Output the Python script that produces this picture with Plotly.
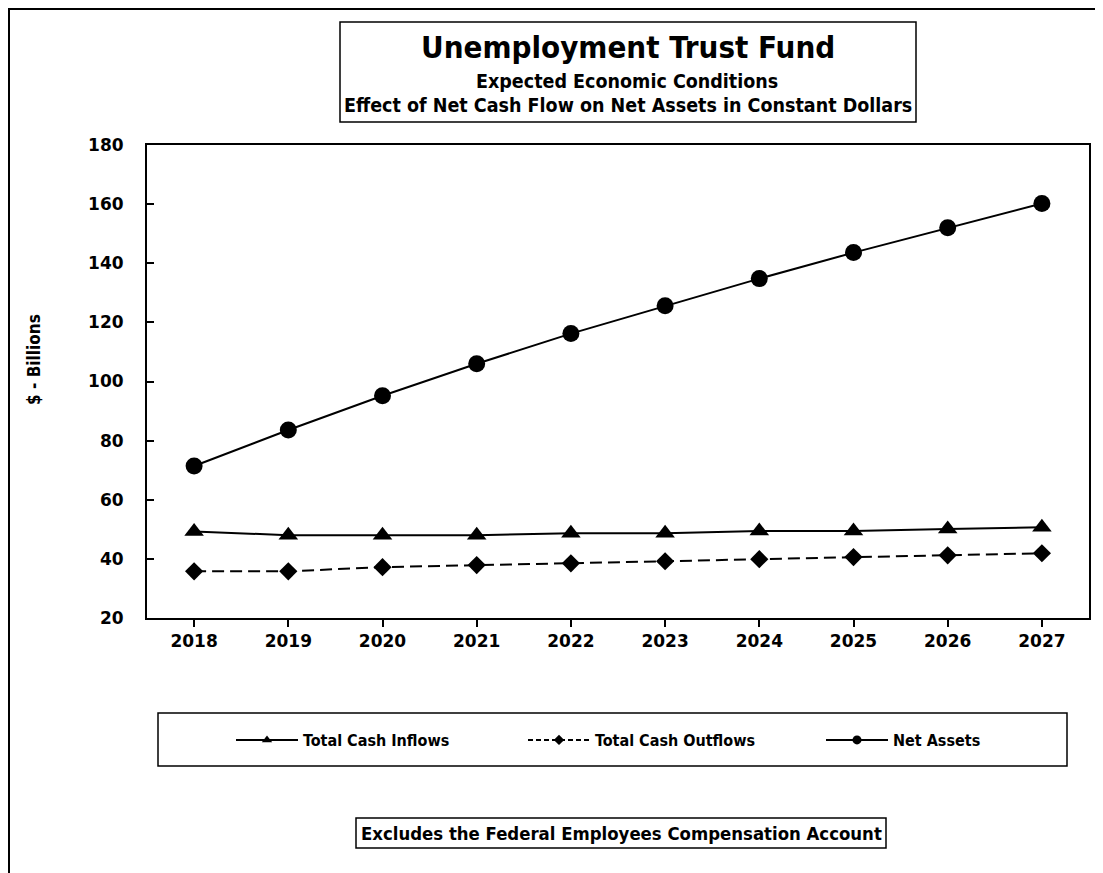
import plotly.graph_objects as go

years = [2018, 2019, 2020, 2021, 2022, 2023, 2024, 2025, 2026, 2027]
inflows = [49.3, 48.0, 48.0, 48.0, 48.7, 48.7, 49.4, 49.4, 50.1, 50.7]
outflows = [35.8, 35.8, 37.2, 37.9, 38.5, 39.2, 39.9, 40.6, 41.2, 41.9]
net_assets = [71.4, 83.6, 95.2, 106.0, 116.2, 125.6, 134.8, 143.6, 152.0, 160.2]
y_ticks = [20, 40, 60, 80, 100, 120, 140, 160, 180]
series_names = ["Total Cash Inflows", "Total Cash Outflows", "Net Assets"]

OFF = 8  # page body margin
W, H = 1103 - OFF, 873 - OFF
L, R, T, B = 147 - OFF, 1089 - OFF, 145 - OFF, 618 - OFF


def px(x):
    return (x - OFF - L) / (R - L)


def py(y):
    return (B - (y - OFF)) / (B - T)


COND = "DejaVu Sans Condensed, Liberation Sans Narrow, Liberation Sans, Arial"


def cfont(size):
    return dict(family=COND, size=size, color="black", weight="bold")


styles = [
    dict(symbol="triangle-up", size=17, dash="solid", lsize=9),
    dict(symbol="diamond", size=14, dash="12px,6px", lsize=8),
    dict(symbol="circle", size=17, dash="solid", lsize=9),
]
data = [inflows, outflows, net_assets]
legends = ["legend", "legend2", "legend3"]

fig = go.Figure()
for name, vals, st, lg in zip(series_names, data, styles, legends):
    fig.add_trace(go.Scatter(x=years, y=vals, name=name, mode="lines+markers",
                             line=dict(color="black", width=2, dash=st["dash"]),
                             marker=dict(symbol=st["symbol"], size=st["size"], color="black"),
                             showlegend=False))
    # legend entry with smaller marker (as in the reference legend)
    fig.add_trace(go.Scatter(x=[None], y=[None], name=name, mode="lines+markers",
                             line=dict(color="black", width=2,
                                       dash="5px,3px" if st["dash"] != "solid" else "solid"),
                             marker=dict(symbol=st["symbol"], size=st["lsize"], color="black"),
                             legend=lg, showlegend=True))

tickfont = dict(family="DejaVu Sans", size=17, color="black", weight="bold")


def leg(xstart):
    return dict(orientation="h", x=px(xstart), y=py(740), xanchor="left", yanchor="middle",
                font=cfont(16), bgcolor="rgba(0,0,0,0)", itemwidth=62)


fig.update_layout(
    width=W, height=H,
    margin=dict(l=L, r=W - R, t=T, b=H - B),
    paper_bgcolor="white", plot_bgcolor="white",
    showlegend=True,
    legend=leg(231), legend2=leg(523), legend3=leg(821),
    xaxis=dict(range=[2017.5, 2027.5], tickmode="array", tickvals=years,
               ticktext=[str(y) for y in years], ticks="outside", ticklen=7, tickwidth=1.5,
               tickcolor="black", showline=True, linecolor="black", linewidth=2, mirror=True,
               showgrid=False, zeroline=False, tickfont=tickfont),
    yaxis=dict(range=[20, 180], tickmode="array", tickvals=y_ticks, ticks="inside", ticklen=7,
               tickwidth=1.5, tickcolor="black", showline=True, linecolor="black", linewidth=2,
               mirror=True, showgrid=False, zeroline=False, tickfont=tickfont,
               ticklabelstandoff=18),
)

shapes = [
    dict(type="rect", xref="paper", yref="paper", x0=px(9), x1=px(1140), y0=py(900), y1=py(9),
         line=dict(color="black", width=2)),
    dict(type="rect", xref="paper", yref="paper", x0=px(340), x1=px(916), y0=py(122), y1=py(22),
         line=dict(color="black", width=1.5)),
    dict(type="rect", xref="paper", yref="paper", x0=px(158), x1=px(1067), y0=py(766), y1=py(713),
         line=dict(color="black", width=1.5)),
    dict(type="rect", xref="paper", yref="paper", x0=px(356), x1=px(886), y0=py(848), y1=py(818),
         line=dict(color="black", width=1.5)),
]
fig.update_layout(shapes=shapes)

annotations = [
    dict(text="Unemployment Trust Fund", x=px(628), y=py(47), xref="paper", yref="paper",
         showarrow=False, xanchor="center", yanchor="middle", font=cfont(31)),
    dict(text="Expected Economic Conditions", x=px(627), y=py(81), xref="paper", yref="paper",
         showarrow=False, xanchor="center", yanchor="middle", font=cfont(19.5)),
    dict(text="Effect of Net Cash Flow on Net Assets in Constant Dollars", x=px(628), y=py(106),
         xref="paper", yref="paper", showarrow=False, xanchor="center", yanchor="middle",
         font=cfont(19.5)),
    dict(text="$ - Billions", x=px(34), y=py(360), xref="paper", yref="paper", textangle=-90,
         showarrow=False, xanchor="center", yanchor="middle", font=cfont(17)),
    dict(text="Excludes the Federal Employees Compensation Account", x=px(621), y=py(833),
         xref="paper", yref="paper", showarrow=False, xanchor="center", yanchor="middle",
         font=cfont(18.4)),
]
fig.update_layout(annotations=annotations)

fig.write_html("out.html")
